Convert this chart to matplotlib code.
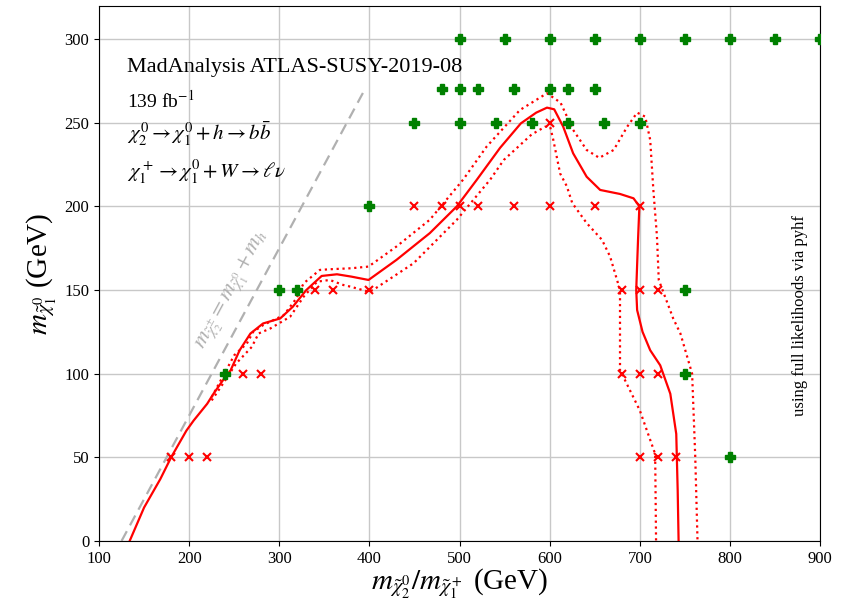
import matplotlib
matplotlib.use("Agg")
import matplotlib.pyplot as plt

plt.rcParams['font.family'] = ['Liberation Serif', 'DejaVu Serif']
plt.rcParams['mathtext.fontset'] = 'stix'

# grid points: allowed (green) and excluded (red)
allowed_x = [500, 550, 600, 650, 700, 750, 800, 850, 900,
             480, 500, 520, 560, 600, 620, 650,
             450, 500, 540, 580, 620, 660, 700,
             400, 300, 320, 750, 240, 750, 800]
allowed_y = [300, 300, 300, 300, 300, 300, 300, 300, 300,
             270, 270, 270, 270, 270, 270, 270,
             250, 250, 250, 250, 250, 250, 250,
             200, 150, 150, 150, 100, 100, 50]

excluded_x = [600, 450, 480, 500, 520, 560, 600, 650, 700,
              340, 360, 400, 680, 700, 720,
              260, 280, 680, 700, 720,
              180, 200, 220, 700, 720, 740]
excluded_y = [250, 200, 200, 200, 200, 200, 200, 200, 200,
              150, 150, 150, 150, 150, 150,
              100, 100, 100, 100, 100,
              50, 50, 50, 50, 50, 50]

# observed exclusion contour
obs_x = [134, 150, 168, 180, 197, 205, 220, 227, 240, 246, 256, 268, 282, 301, 315,
         330, 347, 364, 380, 399, 430, 467, 497, 519, 545, 568, 585, 597, 605, 615,
         626, 641, 656, 678, 693, 699.5, 698, 696, 697, 703, 711.5, 722.6, 733.8,
         740.4, 742, 743]
obs_y = [0, 20, 37, 50, 66, 72, 82, 88, 98, 102, 114, 124, 130, 133, 140,
         150, 158.4, 159.4, 158, 156, 168, 184, 200, 215.8, 235, 249.6, 256, 259, 258, 247.6,
         231.7, 217.7, 209.8, 207.4, 204.8, 200, 180, 150, 138, 125, 114, 105, 88,
         64, 30, 0]

# expected +1 sigma / -1 sigma contours
up_x = [225, 240, 250, 264, 271, 282, 305, 319, 327, 345, 356, 380, 399, 430, 467,
        504, 530, 567, 597, 612, 626, 641, 655, 671, 686, 697, 706, 711.5, 715, 719,
        721, 737, 745, 758, 761.5, 764]
up_y = [86, 101, 111, 118, 125, 129, 135, 145, 154, 162, 162.4, 163, 164, 176, 192,
        216, 235.7, 257.6, 267.6, 262, 245.7, 233.7, 229, 233.7, 247.6, 256, 253.6, 239.7, 209.8, 182,
        156, 133, 124, 100, 50, 0]

dn_x = [225, 240, 252, 269.5, 277, 290, 312, 327, 342, 356, 371, 379, 399, 404, 449,
        497, 534, 549, 580, 595, 600.5, 604, 611.6, 619, 625, 641, 658, 667, 678, 678,
        680, 700, 717, 718]
dn_y = [84, 96, 106, 116, 124, 127, 134, 146, 155, 156, 153, 152, 149, 150, 166,
        192, 216, 227.7, 243, 247.6, 247.6, 239.7, 219.6, 212, 202, 190, 180, 170, 150, 102,
        100, 78, 52, 0]

fig = plt.figure(figsize=(8.42, 6.06), dpi=100)
ax = fig.add_axes([0.1176, 0.1073, 0.8564, 0.8835])

ax.plot([125, 395], [0, 270], color='#b0b0b0', ls='--', lw=1.6, dashes=(5, 3))
ax.text(249, 150, r'$m_{\tilde{\chi}_2^{\pm}} = m_{\tilde{\chi}_1^0} + m_h$',
        color='#b0b0b0', fontsize=16, rotation=61.7, ha='center', va='center',
        rotation_mode='anchor')

ax.plot(obs_x, obs_y, color='red', lw=1.6)
ax.plot(up_x, up_y, color='red', lw=1.6, ls=':')
ax.plot(dn_x, dn_y, color='red', lw=1.6, ls=':')

ax.plot(allowed_x, allowed_y, 'P', color='green', ms=7, ls='none', zorder=5)
ax.plot(excluded_x, excluded_y, 'x', color='red', ms=6, mew=1.5, ls='none', zorder=5)

ax.set_xlim(100, 900)
ax.set_ylim(0, 320)
ax.grid(True, color='#c8c8c8', lw=1)
ax.set_axisbelow(True)
ax.tick_params(labelsize=12)

ax.set_xlabel(r'$m_{\tilde{\chi}_2^0}/m_{\tilde{\chi}_1^+}$ (GeV)', fontsize=21, labelpad=0)
ax.set_ylabel(r'$m_{\tilde{\chi}_1^0}$ (GeV)', fontsize=21, labelpad=4)

ax.text(131, 283, 'MadAnalysis ATLAS-SUSY-2019-08', fontsize=16, va='center')
ax.text(131, 263.5, r'139 fb$^{-1}$', fontsize=14, va='center')
ax.text(131, 243.5, r'$\chi_2^0 \rightarrow \chi_1^0 + h \rightarrow b\bar{b}$', fontsize=15, va='center')
ax.text(131, 220.5, r'$\chi_1^+ \rightarrow \chi_1^0 + W \rightarrow \ell\nu$', fontsize=15, va='center')
ax.text(878, 135, 'using full likelihoods via pyhf', fontsize=12, rotation=90,
        ha='center', va='center')

fig.savefig('out.png', dpi=100)
